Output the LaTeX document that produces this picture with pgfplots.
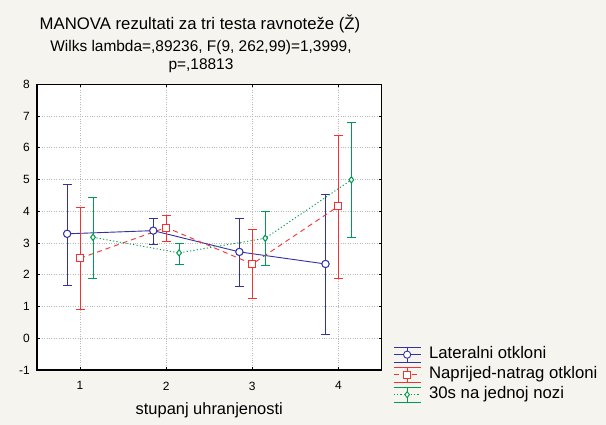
\documentclass[border=0pt]{standalone}
\usepackage{fontspec}
\setmainfont{Liberation Sans}
\usepackage{pgfplots}
\pgfplotsset{compat=1.18}
\usepackage{pgfplotstable}
\definecolor{bgc}{RGB}{246,244,238}
\definecolor{cblue}{RGB}{50,50,160}
\definecolor{cred}{RGB}{245,50,50}
\definecolor{cgreen}{RGB}{0,155,80}
\definecolor{gridc}{RGB}{185,185,185}

\pgfplotstableread{
x y ep em
0.85 3.29 1.55 1.62
1.85 3.39 0.39 0.42
2.85 2.72 1.06 1.08
3.85 2.34 2.20 2.23
}\lateral
\pgfplotstableread{
x y ep em
1 2.52 1.61 1.61
2 3.49 0.38 0.43
3 2.34 1.08 1.09
4 4.16 2.24 2.28
}\naprijed
\pgfplotstableread{
x y ep em
1.15 3.18 1.25 1.30
2.15 2.69 0.31 0.35
3.15 3.15 0.86 0.87
4.15 4.99 1.82 1.81
}\jednoj

\pgfplotsset{
  ebleg/.style={legend image code/.code={
    \draw[solid] (0bp,7.5bp) -- (27bp,7.5bp);
    \draw[solid] (0bp,-7.5bp) -- (27bp,-7.5bp);
    \draw[solid] (13.5bp,-7.5bp) -- (13.5bp,7.5bp);
    \draw[mark repeat=2,mark phase=2] plot coordinates {(0bp,0bp) (13.5bp,0bp) (27bp,0bp)};
  }},
  mkblue/.style={mark=*, mark size=3.6bp, mark options={solid, fill=white, draw=cblue, line width=0.9bp}},
  mkred/.style={mark=square*, mark size=3.5bp, mark options={solid, fill=white, draw=cred, line width=0.9bp}},
  mkgreen/.style={mark=diamond*, mark size=3bp, mark options={solid, fill=white, draw=cgreen, line width=0.9bp}},
}

\begin{document}
\begin{tikzpicture}
\path[use as bounding box, fill=bgc] (0,0) rectangle (606bp,425bp);
\node[font=\fontsize{16.8}{19}\selectfont, anchor=base] at (200bp,395bp) {MANOVA rezultati za tri testa ravnoteže (Ž)};
\node[font=\fontsize{15.5}{18}\selectfont, anchor=base] at (201bp,373bp) {Wilks lambda=,89236, F(9, 262,99)=1,3999,};
\node[font=\fontsize{15.5}{18}\selectfont, anchor=base] at (201bp,355bp) {p=,18813};
\begin{axis}[
  at={(37bp,55bp)}, anchor=south west,
  scale only axis, width=344.5bp, height=285.7bp,
  xmin=0.5, xmax=4.5, ymin=-1, ymax=8,
  xtick={1,2,3,4}, ytick={-1,0,...,8},
  tick pos=both, tick align=inside, major tick length=3bp,
  every tick/.style={black, line width=0.8bp},
  axis line style={line width=1.1bp, black},
  axis background/.style={fill=white},
  grid=major, major grid style={gridc, dotted, line width=0.6bp},
  /pgf/number format/assume math mode=true,
  ticklabel style={font=\fontsize{12}{14}\selectfont},
  yticklabel style={inner xsep=0pt, xshift=-7bp},
  xticklabel style={inner ysep=0pt, yshift=-11.5bp},
  xlabel={stupanj uhranjenosti},
  xlabel style={font=\fontsize{16.5}{19}\selectfont, at={(axis description cs:0.5,-0.154)}, anchor=base},
  legend style={at={(axis description cs:1.0334,-0.122)}, anchor=south west,
    draw=none, fill=none, inner sep=0pt, row sep=0pt,
    font=\fontsize{16.8}{19}\selectfont,
    nodes={inner xsep=0pt, inner ysep=2bp, text height=12bp, text depth=4bp},
    /tikz/every odd column/.append style={column sep=8bp}},
  legend cell align=left,
  error bars/y dir=both, error bars/y explicit,
  error bars/error mark options={rotate=90, mark size=4.5bp, line width=0.9bp},
]
\addplot[ebleg, cblue, line width=0.9bp, mkblue,
  error bars/error bar style={solid, line width=0.9bp, cblue}]
  table[x=x, y=y, y error plus=ep, y error minus=em] {\lateral};
\addlegendentry{Lateralni otkloni}
\addplot[ebleg, cred, line width=0.9bp, dash pattern=on 5bp off 4bp, mkred,
  error bars/error bar style={solid, line width=0.9bp, cred}]
  table[x=x, y=y, y error plus=ep, y error minus=em] {\naprijed};
\addlegendentry{Naprijed-natrag otkloni}
\addplot[ebleg, cgreen, line width=0.9bp, dash pattern=on 1.2bp off 2.2bp, mkgreen,
  error bars/error bar style={solid, line width=0.9bp, cgreen}]
  table[x=x, y=y, y error plus=ep, y error minus=em] {\jednoj};
\addlegendentry{30s na jednoj nozi}
\addplot[forget plot, only marks, mkblue] table[x=x, y=y] {\lateral};
\addplot[forget plot, only marks, mkred] table[x=x, y=y] {\naprijed};
\addplot[forget plot, only marks, mkgreen] table[x=x, y=y] {\jednoj};
\end{axis}
\end{tikzpicture}
\end{document}
